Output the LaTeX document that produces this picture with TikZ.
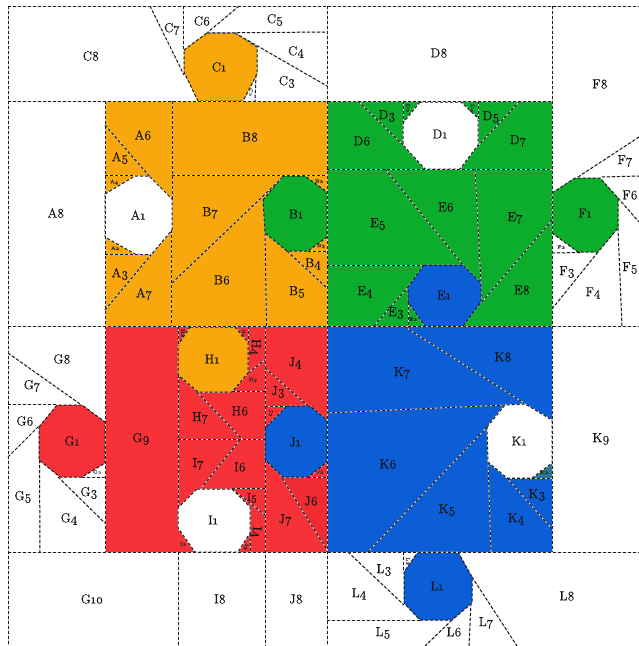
\documentclass[tikz,border=0pt]{standalone}
\usepackage{fontspec}
\setmainfont{Latin Modern Roman}[Numbers=OldStyle,FakeBold=0.35]
\definecolor{cOrange}{RGB}{248,168,12}
\definecolor{cGreen}{RGB}{12,172,44}
\definecolor{cRed}{RGB}{246,50,56}
\definecolor{cBlue}{RGB}{12,94,214}
\definecolor{cTeal}{RGB}{40,120,150}
\definecolor{cDash}{RGB}{25,25,25}
\tikzset{
  seam/.style={draw=cDash,line width=1pt,dash pattern=on 3pt off 2pt,
    preaction={draw=white!85!black,solid,line width=1pt}},
  lab/.style={font=\fontsize{13}{15}\selectfont,text=black!92,inner sep=0pt},
  tinylab/.style={font=\fontsize{5}{6}\selectfont,text=black!85,inner sep=0pt},
  midlab/.style={font=\fontsize{11}{13}\selectfont,text=black!92,inner sep=0pt},
}
\begin{document}
\begin{tikzpicture}[x=1pt,y=-1pt]
\useasboundingbox (0,0) rectangle (639,646);
\fill[white] (0,0) rectangle (639,646);
% coloured squares
\fill[cOrange] (105,101) rectangle (327,326);
\fill[cGreen] (327,101) rectangle (552,326);
\fill[cRed] (105,326) rectangle (327,552);
\fill[cBlue] (327,326) rectangle (552,552);
% small tinted pieces
\fill[red!75!black,opacity=.1] (283,477) -- (327,477) -- (327,550) -- cycle;
\fill[cTeal] (532,478) -- (552,463) -- (552,478) -- cycle;
% octagons
\path[seam,fill=cOrange] (184,50) -- (207,33) -- (235,33) -- (257,47) -- (257,74) -- (243,101) -- (198,101) -- (184,72) -- cycle;
\path[seam,fill=white] (105,194) -- (135,176) -- (149,176) -- (172,199) -- (172,230) -- (151,255) -- (135,254) -- (105,237) -- cycle;
\path[seam,fill=cGreen] (263,200) -- (283,176) -- (305,176) -- (327,192) -- (327,237) -- (308,251) -- (287,251) -- (265,233) -- cycle;
\path[seam,fill=white] (420,102) -- (461,102) -- (478,118) -- (478,145) -- (460,169) -- (425,169) -- (403,145) -- (403,123) -- cycle;
\path[seam,fill=cBlue] (424,265) -- (463,265) -- (481,283) -- (481,302) -- (463,326) -- (425,326) -- (408,302) -- (408,287) -- cycle;
\path[seam,fill=cGreen] (552,193) -- (575,178) -- (600,178) -- (618,198) -- (618,228) -- (598,252) -- (578,252) -- (552,233) -- cycle;
\path[seam,fill=cRed] (39,427) -- (57,405) -- (82,405) -- (105,422) -- (105,463) -- (82,477) -- (60,477) -- (39,460) -- cycle;
\path[seam,fill=cOrange] (190,327) -- (235,327) -- (248,342) -- (248,373) -- (232,392) -- (198,392) -- (178,375) -- (178,345) -- cycle;
\path[seam,fill=white] (197,489) -- (232,489) -- (250,507) -- (250,533) -- (238,552) -- (195,552) -- (178,528) -- (178,508) -- cycle;
\path[seam,fill=cBlue] (287,406) -- (310,406) -- (327,420) -- (327,462) -- (308,477) -- (283,477) -- (265,460) -- (265,428) -- cycle;
\path[seam,fill=white] (487,427) -- (505,405) -- (525,404) -- (552,420) -- (552,463) -- (532,478) -- (507,478) -- (488,462) -- cycle;
\path[seam,fill=cBlue] (418,552) -- (458,552) -- (472,577) -- (472,603) -- (452,620) -- (420,620) -- (404,603) -- (404,572) -- cycle;
% frame lines
\draw[seam] (8,6) -- (639,6);
\draw[seam] (8,101) -- (552,101);
\draw[seam] (8,326) -- (639,326);
\draw[seam] (8,552) -- (639,552);
\draw[seam] (8,6) -- (8,646);
\draw[seam] (327,6) -- (327,646);
\draw[seam] (552,6) -- (552,326);
\draw[seam] (552,326) -- (552,552);
\draw[seam] (105,101) -- (105,552);
\draw[seam] (178,326) -- (178,345);
\draw[seam] (178,375) -- (178,508);
\draw[seam] (178,552) -- (178,646);
\draw[seam] (265,326) -- (265,428);
\draw[seam] (265,460) -- (265,646);
% C
\draw[seam] (150,6) -- (184,75);
\draw[seam] (183.5,6) -- (183.5,50);
\draw[seam] (239,6) -- (207,33);
\draw[seam] (207,33) -- (327,32);
\draw[seam] (235,33) -- (327,86);
\draw[seam] (256,75) -- (255,101);
% A, B
\draw[seam] (172,101) -- (172,199);
\draw[seam] (171,230) -- (171,326);
\draw[seam] (105,125) -- (150,177);
\draw[seam] (105,175) -- (135,175);
\draw[seam] (105,254.5) -- (150,254.5);
\draw[seam] (105,310) -- (151,255);
\draw[seam] (172,175) -- (327,175);
\draw[seam] (172,283) -- (283,177);
\draw[seam] (265,233) -- (266.5,326);
\draw[seam] (308,251) -- (327,251);
\draw[seam] (287,251) -- (327,288);
% D, E
\draw[seam] (327,169) -- (552,169);
\draw[seam] (358,101) -- (403,145);
\draw[seam] (403,101) -- (403,125);
\draw[seam] (478,101) -- (478,120);
\draw[seam] (520,101) -- (478,146);
\draw[seam] (385,169) -- (463,265);
\draw[seam] (475,169) -- (481,283);
\draw[seam] (552,220) -- (482,302);
\draw[seam] (327,265) -- (424,265);
\draw[seam] (374,326) -- (408,287);
\draw[seam] (408,302) -- (408,326);
% F
\draw[seam] (578,177) -- (639,137);
\draw[seam] (602,177) -- (639,176);
\draw[seam] (618,198) -- (639,222);
\draw[seam] (618,228) -- (622,326);
\draw[seam] (552,309) -- (598,252);
\draw[seam] (552,253) -- (580,252.5);
% G
\draw[seam] (8,353) -- (80,404);
\draw[seam] (8,404) -- (57,404);
\draw[seam] (8,457) -- (39,426);
\draw[seam] (39.5,460) -- (40,552);
\draw[seam] (58,477) -- (105,523);
\draw[seam] (82,477) -- (105,477);
% H, I
\draw[seam] (248,326) -- (248,342);
\draw[seam] (248,373) -- (265,360);
\draw[seam] (232,391) -- (265,391);
\draw[seam] (197,392) -- (242,439);
\draw[seam] (178,439) -- (265,439);
\draw[seam] (240,440) -- (202,487);
\draw[seam] (232,488) -- (265,488);
\draw[seam] (232,489) -- (265,515);
\draw[seam] (250,533) -- (250.5,552);
% J
\draw[seam] (265,368) -- (308,406);
\draw[seam] (265,406) -- (287,406);
\draw[seam] (308,477) -- (327,477);
\draw[seam] (282,478) -- (327,550);
% K
\draw[seam] (405,327) -- (524,403);
\draw[seam] (327,413) -- (505,405);
\draw[seam] (487,427) -- (368,552);
\draw[seam] (488,462) -- (491,552);
\draw[seam] (507,478) -- (552,529);
\draw[seam] (507,478) -- (552,478);
% L
\draw[seam] (348,552) -- (404,605);
\draw[seam] (403,552) -- (403,572);
\draw[seam] (327,620) -- (420,620);
\draw[seam] (452,620) -- (425,646);
\draw[seam] (471,603) -- (469,646);
\draw[seam] (472,577) -- (517,646);
% labels
\node[lab] (nA1) at (138,215) {A1};
\node[tinylab] (nA2) at (115,248) {A2};
\node[lab] (nA3) at (120,274) {A3};
\node[tinylab] (nA4) at (114,182) {A4};
\node[lab] (nA5) at (120,158) {A5};
\node[lab] (nA6) at (143,135) {A6};
\node[lab] (nA7) at (144,294) {A7};
\node[lab] (nA8) at (56,213) {A8};
\node[lab] (nB1) at (296,214) {B1};
\node[tinylab] (nB2) at (319,181) {B2};
\node[tinylab] (nB3) at (321,246) {B3};
\node[lab] (nB4) at (313,264) {B4};
\node[lab] (nB5) at (297,292) {B5};
\node[lab] (nB6) at (222,280) {B6};
\node[lab] (nB7) at (210,213) {B7};
\node[lab] (nB8) at (250,137) {B8};
\node[lab] (nC1) at (219,67) {C1};
\node[tinylab,rotate=-90,text=black!60] (nC2) at (251,92) {C2};
\node[lab] (nC3) at (287,82) {C3};
\node[lab] (nC4) at (296,52) {C4};
\node[lab] (nC5) at (275,20) {C5};
\node[lab] (nC6) at (202,21) {C6};
\node[lab] (nC7) at (172,29) {C7};
\node[lab] (nC8) at (91,56) {C8};
\node[lab] (nD1) at (440,134) {D1};
\node[tinylab,rotate=-90] (nD2) at (408,108) {D2};
\node[lab] (nD3) at (387,116) {D3};
\node[tinylab,rotate=-90] (nD4) at (472,108) {D4};
\node[lab] (nD5) at (491,117) {D5};
\node[lab] (nD6) at (362,141) {D6};
\node[lab] (nD7) at (518,141) {D7};
\node[lab] (nD8) at (439,53) {D8};
\node[lab] (nE1) at (444,295) {E1};
\node[tinylab] (nE2) at (413,319) {E2};
\node[lab] (nE3) at (396,313) {E3};
\node[lab] (nE4) at (365,292) {E4};
\node[lab] (nE5) at (378,224) {E5};
\node[lab] (nE6) at (446,207) {E6};
\node[lab] (nE7) at (515,218) {E7};
\node[lab] (nE8) at (522,290) {E8};
\node[lab] (nF1) at (585,213) {F1};
\node[tinylab] (nF2) at (561,247) {F2};
\node[lab] (nF3) at (567,272) {F3};
\node[lab] (nF4) at (593,293) {F4};
\node[lab] (nF5) at (630,268) {F5};
\node[lab] (nF6) at (630,195) {F6};
\node[lab] (nF7) at (625,161) {F7};
\node[lab] (nF8) at (600,84) {F8};
\node[lab] (nG1) at (72,441) {G1};
\node[tinylab,text=black!60] (nG2) at (97,472) {G2};
\node[lab] (nG3) at (89,493) {G3};
\node[lab] (nG4) at (69,519) {G4};
\node[lab] (nG5) at (23,497) {G5};
\node[lab] (nG6) at (25,421) {G6};
\node[lab] (nG7) at (32,386) {G7};
\node[lab] (nG8) at (62,359) {G8};
\node[lab] (nG9) at (141,439) {G9};
\node[lab] (nG10) at (92,599) {G10};
\node[lab] (nH1) at (212,359) {H1};
\node[tinylab,rotate=-90] (nH2) at (183,333) {H2};
\node[tinylab] (nH3) at (253,380) {H3};
\node[lab,rotate=-90] (nH4) at (255,347) {H4};
\node[tinylab,rotate=-90] (nH5) at (243,333) {H5};
\node[lab] (nH6) at (240,411) {H6};
\node[lab] (nH7) at (200,418) {H7};
\node[lab] (nI1) at (213,520) {I1};
\node[tinylab] (nI2) at (183,544) {I2};
\node[tinylab,rotate=-90] (nI3) at (246,547) {I3};
\node[lab,rotate=-90] (nI4) at (256,532) {I4};
\node[midlab] (nI5) at (252,498) {I5};
\node[lab] (nI6) at (240,467) {I6};
\node[lab] (nI7) at (198,464) {I7};
\node[lab] (nI8) at (220,599) {I8};
\node[lab] (nJ1) at (295,442) {J1};
\node[tinylab,rotate=-90] (nJ2) at (271,413) {J2};
\node[lab] (nJ3) at (278,392) {J3};
\node[lab] (nJ4) at (295,363) {J4};
\node[tinylab] (nJ5) at (320,472) {J5};
\node[lab] (nJ6) at (311,501) {J6};
\node[lab] (nJ7) at (285,520) {J7};
\node[lab] (nJ8) at (296,599) {J8};
\node[lab] (nK1) at (519,441) {K1};
\node[tinylab] (nK2) at (544,472) {K2};
\node[lab] (nK3) at (537,495) {K3};
\node[lab] (nK4) at (516,519) {K4};
\node[lab] (nK5) at (447,510) {K5};
\node[lab] (nK6) at (388,464) {K6};
\node[lab] (nK7) at (402,373) {K7};
\node[lab] (nK8) at (503,357) {K8};
\node[lab] (nK9) at (601,439) {K9};
\node[lab] (nL1) at (437,586) {L1};
\node[tinylab,rotate=-90] (nL2) at (408,561) {L2};
\node[lab] (nL3) at (384,570) {L3};
\node[lab] (nL4) at (359,594) {L4};
\node[lab] (nL5) at (383,633) {L5};
\node[lab] (nL6) at (454,632) {L6};
\node[lab] (nL7) at (486,623) {L7};
\node[lab] (nL8) at (567,596) {L8};
\end{tikzpicture}
\end{document}
